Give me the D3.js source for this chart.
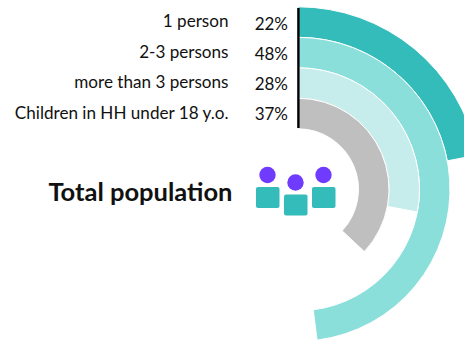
<!DOCTYPE html>
<html>
<head>
<meta charset="utf-8">
<style>
  html, body { margin: 0; padding: 0; background: #fff; }
  svg { display: block; }
  text { font-family: Lato, "Open Sans", sans-serif; fill: #111; }
</style>
<script src="https://cdn.jsdelivr.net/npm/d3@7/dist/d3.min.js"></script>
</head>
<body>
<div id="chart"></div>
<script>
// Share of households by type, outermost ring first
const categories = ["1 person", "2-3 persons", "more than 3 persons", "Children in HH under 18 y.o."];
const shares = [22, 48, 28, 37];
const ringColors = ["#33bcb9", "#8adfdb", "#c6edeb", "#bfbfbf"];
const title = "Total population";

// Household pictogram: one figure per entry, position in layout units
const figureColumns = [0, 1, 2];
const figureDrop = [0, 1, 0];

const width = 464, height = 341;
const cx = 298, cy = 189.3;

const svg = d3.select("#chart").append("svg")
  .attr("width", width).attr("height", height);

const angle = d3.scaleLinear().domain([0, 100]).range([0, 2 * Math.PI]);
const ringIndex = d3.scaleBand().domain(d3.range(categories.length).reverse())
  .range([60.5, 182.5]).paddingInner(0);
const labelY = d3.scalePoint().domain(d3.range(categories.length)).range([27, 119]);
const shareY = d3.scalePoint().domain(d3.range(categories.length)).range([30, 120]);

const arc = d3.arc()
  .startAngle(0)
  .endAngle(d => angle(d.value))
  .innerRadius(d => ringIndex(d.i))
  .outerRadius(d => ringIndex(d.i) + ringIndex.bandwidth());

svg.append("g")
  .attr("transform", `translate(${cx},${cy})`)
  .selectAll("path")
  .data(shares.map((value, i) => ({ value, i })))
  .join("path")
  .attr("d", arc)
  .attr("fill", d => ringColors[d.i])
  .attr("stroke", "#fff")
  .attr("stroke-width", 1);

// Baseline the rings start from
svg.append("line")
  .attr("x1", 298.4).attr("x2", 298.4)
  .attr("y1", 8).attr("y2", 128)
  .attr("stroke", "#000").attr("stroke-width", 2.4);

// Row labels and percentages
svg.append("g").selectAll("text")
  .data(categories)
  .join("text")
  .attr("x", 228.5)
  .attr("y", (d, i) => labelY(i))
  .attr("text-anchor", "end")
  .attr("font-size", 17.1)
  .text(d => d);

svg.append("g").selectAll("text")
  .data(shares)
  .join("text")
  .attr("x", 288)
  .attr("y", (d, i) => shareY(i))
  .attr("text-anchor", "end")
  .attr("font-size", 17)
  .text(d => d + "%");

svg.append("text")
  .attr("x", 232.5).attr("y", 201)
  .attr("text-anchor", "end")
  .attr("font-size", 25.5)
  .attr("font-weight", 700)
  .text(title);

// Pictogram of three people
const figure = svg.append("g").selectAll("g")
  .data(figureColumns)
  .join("g")
  .attr("transform", (d, i) => `translate(${256 + d * 28},${175 + figureDrop[i] * 7.5})`);

figure.append("circle")
  .attr("cx", 11.5).attr("cy", 0).attr("r", 8.2)
  .attr("fill", "#6f3bff");

figure.append("rect")
  .attr("x", 0).attr("y", 12)
  .attr("width", 23.5).attr("height", 21)
  .attr("rx", 2)
  .attr("fill", "#33bcb9");
</script>
</body>
</html>
